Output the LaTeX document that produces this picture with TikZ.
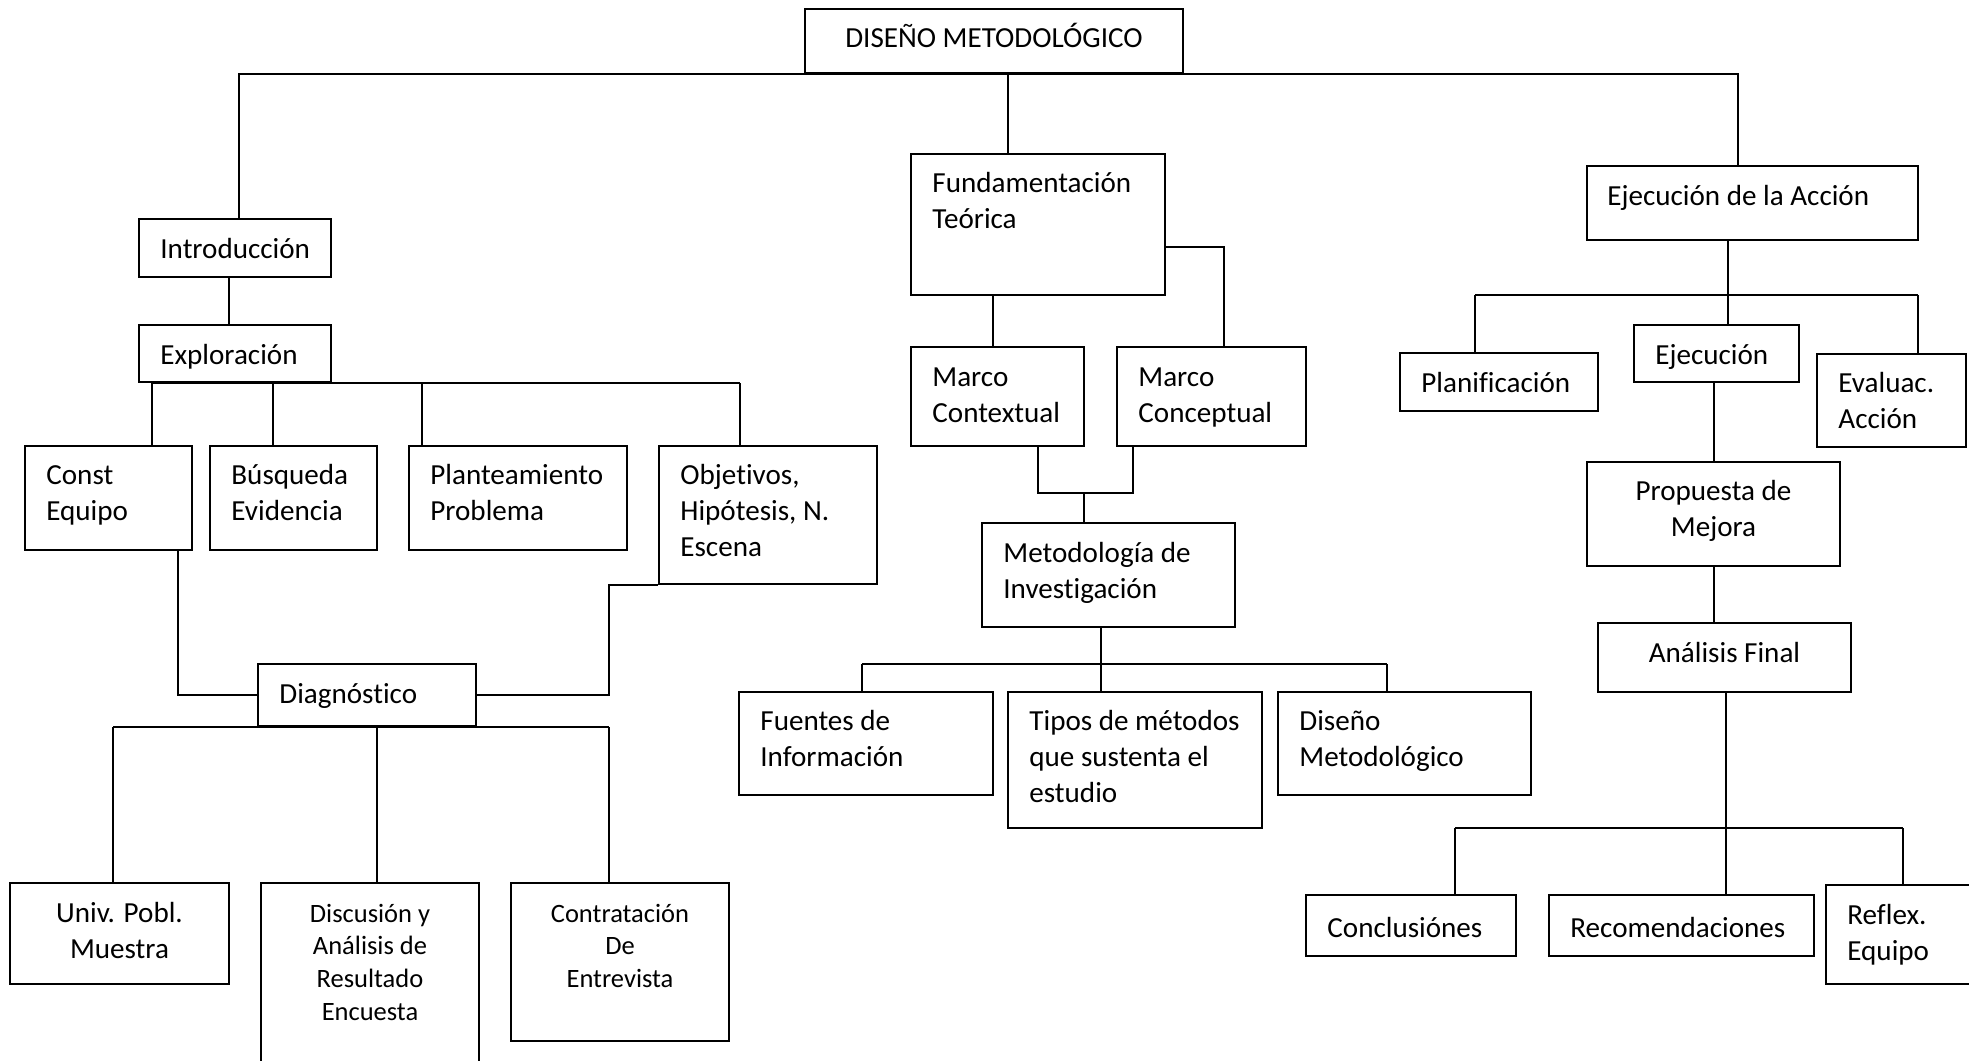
\documentclass[tikz,border=0pt]{standalone}
\usepackage{fontspec}
\setmainfont{Carlito}[Ligatures=NoCommon]
\usetikzlibrary{fit}
\newcommand\fsn{\fontsize{14.55pt}{18.2pt}\selectfont}
\newcommand\fss{\fontsize{13.25pt}{16.4pt}\selectfont}
\newcommand\st{\rule{0pt}{13.8pt}}
\newcommand\sts{\rule{0pt}{12.6pt}}
\newcommand\bx[5]{\node[box, fit={(#2,#3)(#4,#5)}] (#1) {};}
\tikzset{
  box/.style={draw, line width=1.1pt, inner sep=0pt},
  ln/.style={line width=0.75pt},
  tl/.style={inner sep=0pt, anchor=north west, align=left, font=\fsn},
  tc/.style={inner sep=0pt, anchor=north, align=center, font=\fsn},
  tcs/.style={inner sep=0pt, anchor=north, align=center, font=\fss}
}
\begin{document}
\begin{tikzpicture}[x=0.5pt,y=-0.5pt]
\fill[white] (0,0) rectangle (1969,1060);
\useasboundingbox (0,0) rectangle (1969,1060);
% boxes
\bx{dis}{805}{9}{1183}{73}
\bx{intro}{139}{219}{331}{277}
\bx{expl}{139}{325}{331}{382}
\bx{const}{25}{446}{192}{550}
\bx{busq}{210}{446}{377}{550}
\bx{plan}{409}{446}{627}{550}
\bx{obj}{659}{446}{877}{584}
\bx{diag}{258}{664}{476}{726}
\bx{univ}{10}{883}{229}{984}
\bx{disc}{261}{883}{479}{1090}
\bx{contr}{511}{883}{729}{1041}
\bx{fund}{911}{154}{1165}{295}
\bx{mctx}{911}{347}{1084}{446}
\bx{mcon}{1117}{347}{1306}{446}
\bx{metinv}{982}{523}{1235}{627}
\bx{fuen}{739}{692}{993}{795}
\bx{tipos}{1008}{692}{1262}{828}
\bx{disme}{1278}{692}{1531}{795}
\bx{ejac}{1587}{166}{1918}{240}
\bx{plani}{1400}{353}{1598}{411}
\bx{ejec}{1634}{325}{1799}{382}
\bx{eval}{1817}{354}{1966}{447}
\bx{prop}{1587}{462}{1840}{566}
\bx{anal}{1598}{623}{1851}{692}
\bx{concl}{1306}{895}{1516}{956}
\bx{recom}{1549}{895}{1814}{956}
\bx{refl}{1826}{885}{1990}{984}
% texts
\node[tc] (tdis) at (994,19) {\st DISEÑO METODOLÓGICO};
\node[tl] (tintro) at (160,230) {\st Introducción};
\node[tl] (texpl) at (160,336) {\st Exploración};
\node[tl] (tconst) at (46,456) {\st Const\\Equipo};
\node[tl] (tbusq) at (231,456) {\st Búsqueda\\Evidencia};
\node[tl] (tplan) at (430,456) {\st Planteamiento\\Problema};
\node[tl] (tobj) at (680,456) {\st Objetivos,\\Hipótesis, N.\\Escena};
\node[tl] (tdiag) at (279,675) {\st Diagnóstico};
\node[tc] (tuniv) at (119.5,894) {\st Univ. Pobl.\\Muestra};
\node[tcs] (tdisc) at (370,896.5) {\sts Discusión y\\Análisis de\\Resultado\\Encuesta};
\node[tcs] (tcontr) at (620,896.5) {\sts Contratación\\De\\Entrevista};
\node[tl] (tfund) at (932,164) {\st Fundamentación\\Teórica};
\node[tl] (tmctx) at (932,358) {\st Marco\\Contextual};
\node[tl] (tmcon) at (1138,358) {\st Marco\\Conceptual};
\node[tl] (tmetinv) at (1003,534) {\st Metodología de\\Investigación};
\node[tl] (tfuen) at (760,702) {\st Fuentes de\\Información};
\node[tl] (ttipos) at (1029,702) {\st Tipos de métodos\\que sustenta el\\estudio};
\node[tl] (tdisme) at (1299,702) {\st Diseño\\Metodológico};
\node[tl] (tejac) at (1607,177) {\st Ejecución de la Acción};
\node[tl] (tplani) at (1421,364) {\st Planificación};
\node[tl] (tejec) at (1655,336) {\st Ejecución};
\node[tl] (teval) at (1838,364) {\st Evaluac.\\Acción};
\node[tc] (tprop) at (1713.5,472) {\st Propuesta de\\Mejora};
\node[tc] (tanal) at (1724.5,634) {\st Análisis Final};
\node[tl] (tconcl) at (1327,909) {\st Conclusiónes};
\node[tl] (trecom) at (1570,909) {\st Recomendaciones};
\node[tl] (trefl) at (1847,896) {\st Reflex.\\Equipo};
% connectors
\draw[ln] (239,0 |- intro.north) -- (239,0 |- dis.south) -| (1738,0 |- ejac.north);
\draw[ln] (1008,0 |- dis.south) -- (1008,0 |- fund.north);
\draw[ln] (229,0 |- intro.south) -- (229,0 |- expl.north);
\draw[ln] (152,0 |- expl.south) -- (740,0 |- expl.south);
\foreach \x/\n in {152/const,273/busq,422/plan,740/obj}
  \draw[ln] (\x,0 |- expl.south) -- (\x,0 |- \n.north);
\draw[ln] (178,0 |- const.south) |- (diag.west);
\draw[ln] (diag.east) -| (609,0 |- obj.south) -- (obj.south west);
\draw[ln] (113,0 |- diag.south) -- (609,0 |- diag.south);
\foreach \x/\n in {113/univ,377/disc,609/contr}
  \draw[ln] (\x,0 |- diag.south) -- (\x,0 |- \n.north);
\draw[ln] (993,0 |- fund.south) -- (993,0 |- mctx.north);
\draw[ln] (fund.east |- 0,247) -| (1224,0 |- mcon.north);
\coordinate (mj) at (1084,493);
\draw[ln] (1038,0 |- mctx.south) |- (mj) -| (1133,0 |- mcon.south);
\draw[ln] (mj) -- (mj |- metinv.north);
\coordinate (mi) at (1101,664);
\draw[ln] (1101,0 |- metinv.south) -- (1101,0 |- tipos.north);
\draw[ln] (862,0 |- mi) -- (1387,0 |- mi);
\draw[ln] (862,0 |- mi) -- (862,0 |- fuen.north);
\draw[ln] (1387,0 |- mi) -- (1387,0 |- disme.north);
\coordinate (ej) at (1728,295);
\draw[ln] (1728,0 |- ejac.south) -- (1728,0 |- ejec.north);
\draw[ln] (1475,0 |- ej) -- (1918,0 |- ej);
\draw[ln] (1475,0 |- ej) -- (1475,0 |- plani.north);
\draw[ln] (1918,0 |- ej) -- (1918,0 |- eval.north);
\draw[ln] (1714,0 |- ejec.south) -- (1714,0 |- prop.north);
\draw[ln] (1714,0 |- prop.south) -- (1714,0 |- anal.north);
\coordinate (aj) at (1726,828);
\draw[ln] (1726,0 |- anal.south) -- (1726,0 |- recom.north);
\draw[ln] (1455,0 |- aj) -- (1903,0 |- aj);
\draw[ln] (1455,0 |- aj) -- (1455,0 |- concl.north);
\draw[ln] (1903,0 |- aj) -- (1903,0 |- refl.north);
\end{tikzpicture}
\end{document}
